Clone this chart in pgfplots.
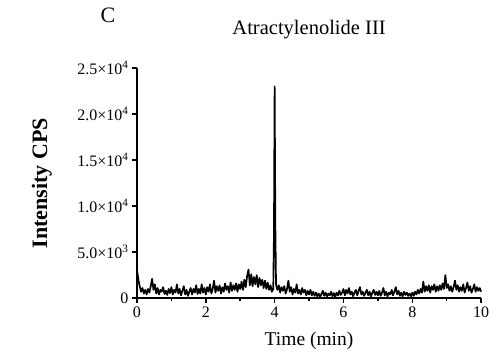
\documentclass[border=0pt]{standalone}
\usepackage{pgfplots}
\pgfplotsset{compat=1.18}
\usepackage{fontspec}
\setmainfont{Liberation Serif}
\begin{document}
\begin{tikzpicture}
\begin{axis}[
  scale only axis, width=344bp, height=230bp,
  xmin=0, xmax=10, ymin=0, ymax=25000,
  axis x line=bottom, axis y line=left,
  axis line style={line width=1.5bp,-},
  xtick={0,2,4,6,8,10}, xticklabels={0,2,4,6,8,10},
  minor xtick={1,3,5,7,9},
  ytick={0,5000,10000,15000,20000,25000},
  yticklabels={0,5.0×10\textsuperscript{3},1.0×10\textsuperscript{4},1.5×10\textsuperscript{4},2.0×10\textsuperscript{4},2.5×10\textsuperscript{4}},
  scaled y ticks=false,
  tick align=outside, major tick length=5bp, minor tick length=3bp,
  every tick/.style={black, line width=1.5bp},
  ticklabel style={font=\fontsize{16bp}{19bp}\selectfont},
  xlabel={Time (min)},
  xlabel style={font=\fontsize{19.5bp}{22bp}\selectfont, at={(axis description cs:0.5,-0.187)}, anchor=center},
  ylabel={\textbf{Intensity CPS}},
  ylabel style={font=\fontsize{22bp}{25bp}\selectfont, at={(axis description cs:-0.276,0.5)}, anchor=center},
  title={Atractylenolide III},
  title style={font=\fontsize{20.5bp}{23bp}\selectfont, at={(axis description cs:0.5,1.143)}, anchor=center},
  clip=false,
]
\addplot[black, line width=1.7bp, line join=round] coordinates {
(0.00,3100)(0.04,2000)(0.08,1300)(0.12,700)(0.16,1100)(0.20,500)(0.24,900)(0.28,400)(0.32,1000)(0.36,600)
(0.40,1300)(0.44,2100)(0.48,900)(0.52,1500)(0.56,500)(0.60,1100)(0.64,400)(0.68,900)(0.72,700)(0.76,1200)
(0.80,450)(0.84,800)(0.88,350)(0.92,1000)(0.96,550)
(1.00,1200)(1.04,400)(1.08,900)(1.12,600)(1.16,1500)(1.20,500)(1.24,1000)(1.28,300)(1.32,800)(1.36,1300)
(1.40,400)(1.44,900)(1.48,250)(1.52,700)(1.56,1100)(1.60,400)(1.64,1000)(1.68,600)(1.72,1400)(1.76,450)
(1.80,1000)(1.84,500)(1.88,1500)(1.92,600)(1.96,1100)
(2.00,400)(2.04,1200)(2.08,700)(2.12,1500)(2.16,500)(2.20,1000)(2.24,1900)(2.28,600)(2.32,1300)(2.36,800)
(2.40,1400)(2.44,500)(2.48,1200)(2.52,700)(2.56,1600)(2.60,900)(2.64,1300)(2.68,600)(2.72,1700)(2.76,800)
(2.80,1400)(2.84,900)(2.88,1600)(2.92,700)(2.96,1500)
(3.00,1000)(3.04,1800)(3.08,900)(3.12,2000)(3.16,1200)(3.20,2400)(3.24,3100)(3.28,1400)(3.32,2600)(3.36,1300)
(3.40,2300)(3.44,1500)(3.48,2500)(3.52,1200)(3.56,2200)(3.60,1400)(3.64,2000)(3.68,1100)(3.72,1900)(3.76,1000)
(3.80,1700)(3.84,900)(3.88,1400)(3.92,700)(3.96,1000)(3.98,7000)(4.00,23000)(4.02,8000)(4.04,1500)
(4.08,900)(4.12,1400)(4.16,600)(4.20,1200)(4.24,800)(4.28,1300)(4.32,500)(4.36,1000)(4.40,1900)(4.44,700)
(4.48,1200)(4.52,400)(4.56,1000)(4.60,600)(4.64,1500)(4.68,500)(4.72,900)(4.76,400)(4.80,1100)(4.84,600)
(4.88,900)(4.92,300)(4.96,800)
(5.00,400)(5.04,900)(5.08,300)(5.12,700)(5.16,250)(5.20,600)(5.24,200)(5.28,500)(5.32,150)(5.36,450)
(5.40,800)(5.44,250)(5.48,600)(5.52,200)(5.56,500)(5.60,300)(5.64,700)(5.68,200)(5.72,550)(5.76,150)
(5.80,600)(5.84,300)(5.88,800)(5.92,350)(5.96,600)
(6.00,1000)(6.04,300)(6.08,900)(6.12,500)(6.16,1100)(6.20,400)(6.24,700)(6.28,200)(6.32,600)(6.36,900)
(6.40,300)(6.44,800)(6.48,1200)(6.52,400)(6.56,700)(6.60,250)(6.64,600)(6.68,900)(6.72,300)(6.76,700)
(6.80,200)(6.84,600)(6.88,900)(6.92,350)(6.96,700)
(7.00,300)(7.04,800)(7.08,250)(7.12,600)(7.16,1100)(7.20,300)(7.24,700)(7.28,200)(7.32,600)(7.36,400)
(7.40,900)(7.44,300)(7.48,700)(7.52,1200)(7.56,400)(7.60,800)(7.64,250)(7.68,600)(7.72,200)(7.76,700)
(7.80,350)(7.84,600)(7.88,250)(7.92,500)(7.96,200)
(8.00,600)(8.04,250)(8.08,700)(8.12,400)(8.16,900)(8.20,500)(8.24,1000)(8.28,600)(8.32,1800)(8.36,700)
(8.40,1300)(8.44,800)(8.48,1400)(8.52,600)(8.56,1300)(8.60,900)(8.64,1500)(8.68,700)(8.72,1300)(8.76,800)
(8.80,1400)(8.84,900)(8.88,1600)(8.92,1000)(8.96,2500)
(9.00,1100)(9.04,1500)(9.08,800)(9.12,1300)(9.16,700)(9.20,1200)(9.24,1900)(9.28,900)(9.32,1400)(9.36,700)
(9.40,1200)(9.44,800)(9.48,1500)(9.52,600)(9.56,1100)(9.60,1700)(9.64,800)(9.68,1300)(9.72,600)(9.76,1000)
(9.80,1500)(9.84,700)(9.88,1200)(9.92,800)(9.96,1100)(10.00,700)
};
\node[font=\fontsize{22bp}{25bp}\selectfont] at (axis description cs:-0.084,1.23) {C};
\path (axis description cs:-0.398,-0.2696) rectangle (axis description cs:1.049,1.2957);
\end{axis}
\end{tikzpicture}
\end{document}
